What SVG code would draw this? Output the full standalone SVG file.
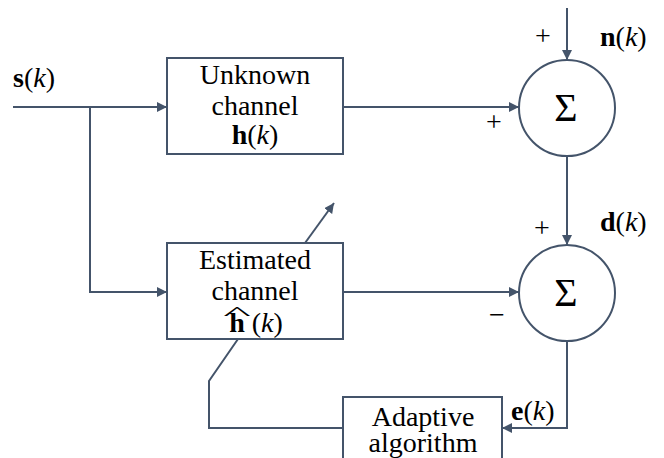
<svg xmlns="http://www.w3.org/2000/svg" width="664" height="458" viewBox="0 0 664 458">
<defs>
<marker id="ah" viewBox="0 0 10 10" refX="10" refY="5" markerWidth="5" markerHeight="5" orient="auto" markerUnits="strokeWidth">
<path d="M0,0 L10,5 L0,10 Z" fill="#44546A"/>
</marker>
</defs>
<style>
.box{fill:#fff;stroke:#44546A;stroke-width:2}
.ln{fill:none;stroke:#44546A;stroke-width:2}
.arr{fill:none;stroke:#44546A;stroke-width:2;marker-end:url(#ah)}
text{font-family:'Liberation Serif','Times New Roman','DejaVu Serif',serif;fill:#000}
.t{font-size:28px;text-anchor:middle}
.lab{font-size:28px}
.sg{font-size:28px;text-anchor:middle}
.sig{font-size:40px;text-anchor:middle}
</style>
<rect width="664" height="458" fill="#fff"/>
<g id="connectors">
<path class="arr" d="M13,107 H167"/>
<path class="arr" d="M90,107 V292 H167"/>
<path class="arr" d="M343,107 H519"/>
<path class="arr" d="M567,8 V60"/>
<path class="arr" d="M567,156 V245"/>
<path class="arr" d="M343,292 H519"/>
<path class="arr" d="M567,341 V428 H502"/>
<path class="ln" d="M343,428 H209 V381 L238,339"/>
<path class="arr" d="M305,243 L334,203"/>
</g>
<g id="unknown">
<rect class="box" x="167" y="58" width="176" height="96"/>
<text class="t" x="255" y="84">Unknown</text>
<text class="t" x="255" y="115">channel</text>
<text class="t" x="255" y="144"><tspan font-weight="bold">h</tspan>(<tspan font-style="italic">k</tspan>)</text>
</g>
<g id="estimated">
<rect class="box" x="167" y="243" width="176" height="96"/>
<text class="t" x="255" y="269">Estimated</text>
<text class="t" x="255" y="300">channel</text>
<text class="t" x="256" y="332"><tspan font-weight="bold">h</tspan> (<tspan font-style="italic">k</tspan>)</text>
<text class="t" transform="translate(237,320) scale(2.1,0.65)" x="0" y="0" font-size="20">^</text>
</g>
<g id="sum1">
<circle class="box" cx="567" cy="108" r="48"/>
<text class="sig" x="566" y="121">Σ</text>
</g>
<g id="sum2">
<circle class="box" cx="567" cy="293" r="48"/>
<text class="sig" x="566" y="306">Σ</text>
</g>
<g id="adaptive">
<path class="box" d="M343,458 V397 H502 V458"/>
<text class="t" x="423" y="426">Adaptive</text>
<text class="t" x="423" y="452">algorithm</text>
</g>
<g id="labels">
<text class="lab" x="13" y="87"><tspan font-weight="bold">s</tspan>(<tspan font-style="italic">k</tspan>)</text>
<text class="lab" x="600" y="46"><tspan font-weight="bold">n</tspan>(<tspan font-style="italic">k</tspan>)</text>
<text class="lab" x="600" y="231"><tspan font-weight="bold">d</tspan>(<tspan font-style="italic">k</tspan>)</text>
<text class="lab" x="511" y="420"><tspan font-weight="bold">e</tspan>(<tspan font-style="italic">k</tspan>)</text>
<text class="sg" x="543" y="45">+</text>
<text class="sg" x="494" y="131">+</text>
<text class="sg" x="542" y="237">+</text>
<text class="sg" x="497" y="324">−</text>
</g>
</svg>
